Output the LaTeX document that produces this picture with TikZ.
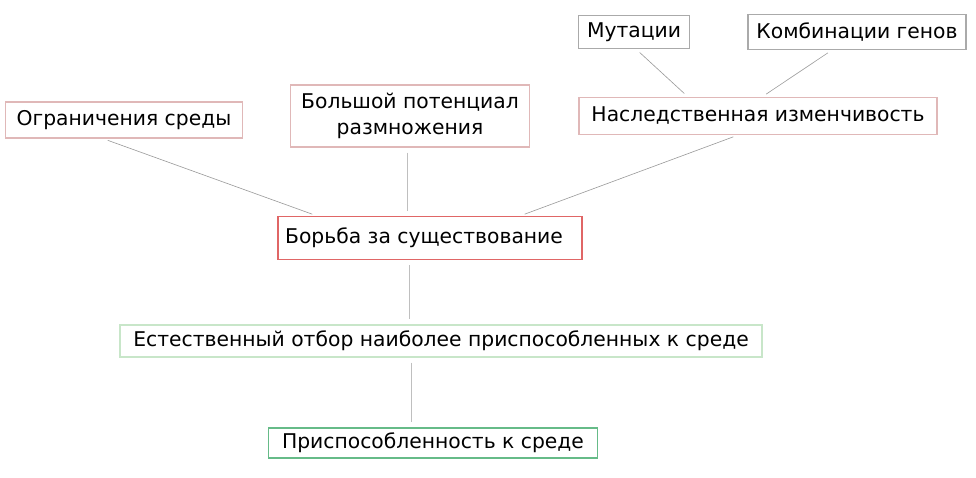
\documentclass[tikz,border=0pt]{standalone}
\usepackage{fontspec}
\setmainfont{DejaVu Sans}
\begin{document}
\begin{tikzpicture}[x=1pt,y=-1pt,
 bx/.style={draw=#1,line width=1.2pt,inner sep=0pt,align=center,font=\fontsize{20.3}{26}\selectfont},
 ln/.style={draw=gray!80,line width=0.6pt,shorten <=5pt,shorten >=5pt}]
\useasboundingbox[fill=white] (0,0) rectangle (976,478);
\definecolor{gb}{HTML}{AAAAAA}\definecolor{pk}{HTML}{E0B8B8}
\definecolor{rd}{HTML}{E06666}\definecolor{lg}{HTML}{C8E6C9}\definecolor{gr}{HTML}{66BB88}
\node[bx=gb,minimum width=111,minimum height=33] (mut) at (634,32) {Мутации};
\node[bx=gb,minimum width=218,minimum height=35] (komb) at (857,32) {Комбинации генов};
\node[bx=pk,minimum width=358,minimum height=37] (nasl) at (758,116) {Наследственная изменчивость};
\node[bx=pk,minimum width=239,minimum height=62] (bol) at (410,116) {Большой потенциал\\размножения};
\node[bx=pk,minimum width=237,minimum height=36] (ogr) at (124,120) {Ограничения среды};
\node[bx=rd,minimum width=304,minimum height=43] (bor) at (430,238) {\hspace{-12pt}Борьба за существование};
\node[bx=lg,minimum width=642,minimum height=32] (est) at (441,341) {Естественный отбор наиболее приспособленных к среде};
\node[bx=gr,minimum width=329,minimum height=30] (pri) at (433,443) {Приспособленность к среде};
\draw[ln] ([xshift=2]mut.south) -- ([xshift=-70]nasl.north);
\draw[ln] ([xshift=-25]komb.south) -- ([xshift=4]nasl.north);
\draw[ln] ([xshift=-21]ogr.south) -- ([xshift=-113]bor.north);
\draw[ln,draw=gray!50] ([xshift=-3]bol.south) -- ([xshift=-23]bor.north);
\draw[ln] ([xshift=-20]nasl.south) -- ([xshift=90]bor.north);
\draw[ln,draw=gray!50] ([xshift=-21]bor.south) -- ([xshift=-32]est.north);
\draw[ln,draw=gray!50] ([xshift=-30]est.south) -- ([xshift=-22]pri.north);
\end{tikzpicture}
\end{document}
